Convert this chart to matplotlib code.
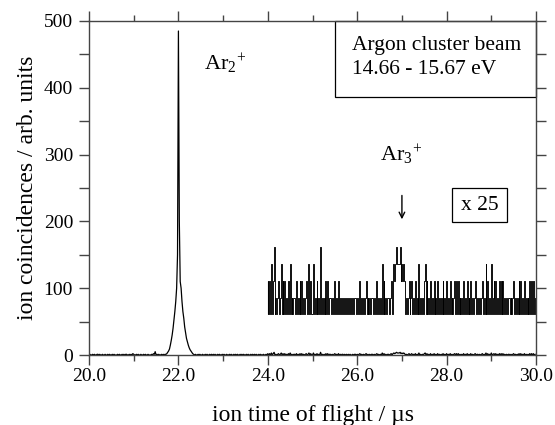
import numpy as np
import matplotlib
matplotlib.use('Agg')
import matplotlib.pyplot as plt
from matplotlib.patches import Rectangle
from matplotlib.ticker import MultipleLocator, FormatStrFormatter

plt.rcParams['font.family'] = ['Liberation Serif', 'DejaVu Serif']
plt.rcParams['mathtext.fontset'] = 'custom'
plt.rcParams['mathtext.rm'] = 'Liberation Serif'
plt.rcParams['mathtext.it'] = 'Liberation Serif:italic'

# time of flight histogram, bin width 0.02 us starting at 20.0 us
t_start = 20.0
t_bin = 0.02

# counts 20.00 - 21.72 us
noise_a = "0100101001 1010010010 0101001010 0010100101 0110010102 1001010010 0101001000 1021501010 0101011"
# Ar2+ peak, 21.74 - 22.32 us
peak_ar2 = [2, 4, 6, 9, 15, 22, 30, 40, 52, 65, 80, 100, 150, 485, 200,
            110, 100, 80, 65, 55, 42, 33, 25, 20, 15, 11, 8, 6, 4, 2]
# counts 22.34 - 23.98 us
noise_b = "1010010100 1001010010 1010100101 0010100100 1010010101 0010101001 0100101010 1001010010 010"
# counts 24.00 - 29.98 us (Ar3+ around 27.0)
noise_c = ("2020302401 0120130202 0102030101 1020102020 1012013020 0301020104 "
           "0101020201 1010120102 0101101010 1010010110 1012010101 2010101101 "
           "0120101030 2010110120 2323433342 3232010120 1201020103 0101023020 "
           "1020102010 2010102010 2010201012 0202010102 0102010201 0120110101 "
           "2010302010 3012020102 0202010101 1010120101 0202010201 0102020201")

# magnified part
zoom_factor = 25
zoom_offset = 61
zoom_from = 24.0

def digits(s):
    return [int(c) for c in s if c.isdigit()]

counts = np.array(digits(noise_a) + peak_ar2 + digits(noise_b) + digits(noise_c), dtype=float)
tof = t_start + t_bin * np.arange(len(counts))

fig = plt.figure(figsize=(5.55, 4.25), dpi=100)
ax = fig.add_axes([0.1604, 0.1647, 0.8054, 0.7859])

ax.plot(tof, counts, color='k', lw=0.9)
sel = tof >= zoom_from - 1e-9
ax.plot(tof[sel], counts[sel] * zoom_factor + zoom_offset, color='k', lw=0.65,
        drawstyle='steps-mid')
ax.vlines(tof[sel][0], zoom_offset, counts[sel][0] * zoom_factor + zoom_offset,
          color='k', lw=0.8)

ax.set_xlim(20, 30)
ax.set_ylim(0, 500)
ax.xaxis.set_major_locator(MultipleLocator(2))
ax.xaxis.set_minor_locator(MultipleLocator(1))
ax.xaxis.set_major_formatter(FormatStrFormatter('%.1f'))
ax.yaxis.set_major_locator(MultipleLocator(100))
ax.yaxis.set_minor_locator(MultipleLocator(50))

for s in ax.spines.values():
    s.set_color('#444444')
    s.set_linewidth(1.0)
ax.tick_params(which='both', direction='out', top=True, right=True, color='#444444', width=1.0)
ax.tick_params(axis='x', which='major', length=7.5, labelsize=14, pad=2)
ax.tick_params(axis='x', which='minor', length=4)
ax.tick_params(axis='y', which='both', length=7.5)
ax.tick_params(axis='y', which='major', labelsize=14, pad=4)

ax.set_xlabel('ion time of flight / µs', fontsize=17, labelpad=14)
ax.set_ylabel('ion coincidences / arb. units', fontsize=17, labelpad=4)

ax.text(22.57, 426, r'Ar$_2$$^{+}$', fontsize=16)
ax.text(26.51, 289, r'Ar$_3$$^{+}$', fontsize=16)
ax.annotate('', xy=(27.0, 199), xytext=(27.0, 243),
            arrowprops=dict(arrowstyle='->', color='k', lw=1.0))

ax.add_patch(Rectangle((25.5, 386), 4.5, 114, fill=False, ec='k', lw=0.9, clip_on=False))
ax.text(25.88, 456, 'Argon cluster beam', fontsize=15.5)
ax.text(25.88, 420, '14.66 - 15.67 eV', fontsize=15.5)

ax.add_patch(Rectangle((28.13, 199), 1.22, 51.5, fill=False, ec='k', lw=0.9))
ax.text(28.74, 224, 'x 25', fontsize=15.5, ha='center', va='center')

fig.savefig('out.png', dpi=100)
